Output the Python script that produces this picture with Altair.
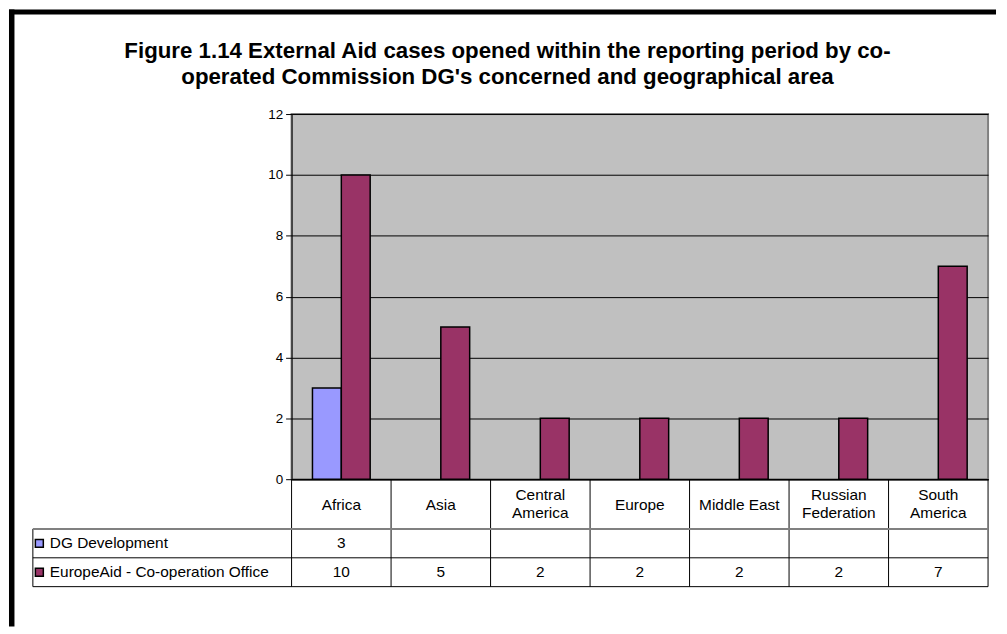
import altair as alt
import pandas as pd

FONT = "Liberation Sans"

title_lines = [
    "Figure 1.14 External Aid cases opened within the reporting period by co-",
    "operated Commission DG's concerned and geographical area",
]
categories = ["Africa", "Asia", "Central America", "Europe", "Middle East",
              "Russian Federation", "South America"]
two_line_cats = ["Central America", "Russian Federation", "South America"]
series = ["DG Development", "EuropeAid - Co-operation Office"]
dg_values = [3, None, None, None, None, None, None]
europeaid_values = [10, 5, 2, 2, 2, 2, 7]
colors = ["#9999FF", "#993366"]
y_ticks = [0, 2, 4, 6, 8, 10, 12]

rows = []
for s, vals in zip(series, [dg_values, europeaid_values]):
    for c, v in zip(categories, vals):
        rows.append({"cat": c, "series": s, "value": v,
                     "label": "" if v is None else str(v)})
df = pd.DataFrame(rows)
bars_df = df.dropna(subset=["value"])
one = pd.DataFrame({"k": [0]})
cats_df = pd.DataFrame({"cat": categories})
last_cat_df = pd.DataFrame({"cat": [categories[-1]]})
series_df = pd.DataFrame({"series": series})

x_scale = alt.Scale(domain=categories, paddingInner=0, paddingOuter=0)
color_scale = alt.Scale(domain=series, range=colors)
table_y = alt.Scale(domain=series, range=[417, 475], paddingInner=0, paddingOuter=0)

two_line_test = " || ".join("datum.value == '%s'" % c for c in two_line_cats)
split_expr = "(%s) ? split(datum.label, ' ') : datum.label" % two_line_test.replace("datum.value", "datum.label")

bars = alt.Chart(bars_df).mark_bar(stroke="black", strokeWidth=1.5).encode(
    x=alt.X("cat:N", scale=x_scale, axis=alt.Axis(
        title=None, ticks=False, domain=True, domainColor="black", domainWidth=1.5,
        labelAngle=0, labelPadding=25,
        labelBaseline={"condition": {"test": two_line_test, "value": "line-bottom"}, "value": "middle"},
        labelFontSize=15.5, labelLineHeight=19, labelColor="black", labelFont=FONT,
        labelOverlap=False, labelExpr=split_expr, grid=False)),
    xOffset=alt.XOffset("series:N", scale=alt.Scale(domain=series, paddingInner=0, paddingOuter=0.724)),
    y=alt.Y("value:Q", scale=alt.Scale(domain=[0, 12], nice=False), axis=alt.Axis(
        values=y_ticks, title=None, grid=True, gridColor="black", gridWidth=1, gridOpacity=1,
        domain=True, domainColor="black", domainWidth=1, ticks=True, tickColor="black",
        tickSize=6, tickWidth=1, labelFontSize=13.5, labelColor="black", labelPadding=3,
        labelFont=FONT)),
    color=alt.Color("series:N", scale=color_scale, legend=None),
)

vlines = alt.Chart(cats_df).mark_rule(color="black", strokeWidth=1).encode(
    x=alt.X("cat:N", scale=x_scale, bandPosition=0),
    y=alt.value(367), y2=alt.value(475))
vline_end = alt.Chart(last_cat_df).mark_rule(color="black", strokeWidth=1).encode(
    x=alt.X("cat:N", scale=x_scale, bandPosition=1),
    y=alt.value(367), y2=alt.value(475))
vline_left = alt.Chart(one).mark_rule(color="black", strokeWidth=1).encode(
    x=alt.value(-260), y=alt.value(417), y2=alt.value(475))

hl_top = alt.Chart(pd.DataFrame({"series": [series[0]]})).mark_rule(color="#808080", strokeWidth=2).encode(
    y=alt.Y("series:N", scale=table_y, bandPosition=0, axis=None),
    x=alt.value(-260), x2=alt.value(700))
hl_mid = alt.Chart(pd.DataFrame({"series": [series[1]]})).mark_rule(color="black", strokeWidth=1).encode(
    y=alt.Y("series:N", scale=table_y, bandPosition=0, axis=None),
    x=alt.value(-260), x2=alt.value(700))
hl_bot = alt.Chart(pd.DataFrame({"series": [series[1]]})).mark_rule(color="black", strokeWidth=1).encode(
    y=alt.Y("series:N", scale=table_y, bandPosition=1, axis=None),
    x=alt.value(-260), x2=alt.value(700))

tbl_text = alt.Chart(df).mark_text(fontSize=15.5, font=FONT, color="black", baseline="middle").encode(
    x=alt.X("cat:N", scale=x_scale),
    y=alt.Y("series:N", scale=table_y, axis=None),
    text="label:N")

row_labels = alt.Chart(series_df).mark_text(fontSize=15.5, font=FONT, color="black",
                                             align="left", baseline="middle").encode(
    x=alt.value(-243),
    y=alt.Y("series:N", scale=table_y, axis=None),
    text="series:N")

keys = alt.Chart(series_df).mark_square(size=64, stroke="black", strokeWidth=1.5, opacity=1).encode(
    x=alt.value(-253.5),
    y=alt.Y("series:N", scale=table_y, axis=None),
    color=alt.Color("series:N", scale=color_scale, legend=None))

border_left = alt.Chart(one).mark_rule(color="black", strokeWidth=5.5, strokeCap="butt").encode(
    x=alt.value(-281.25), y=alt.value(-105), y2=alt.value(515))
border_top = alt.Chart(one).mark_rule(color="black", strokeWidth=5, strokeCap="butt").encode(
    x=alt.value(-284), x2=alt.value(708), y=alt.value(-102.5))

chart = alt.layer(
    bars, vlines, vline_end, vline_left, hl_top, hl_mid, hl_bot,
    tbl_text, row_labels, keys, border_left, border_top
).resolve_scale(y="independent").properties(
    width=700, height=367,
    padding={"left": -2, "top": -3, "right": 0, "bottom": 0},
    title=alt.TitleParams(text=title_lines, font=FONT, fontSize=22.4, fontWeight="bold",
                          anchor="middle", frame="bounds", offset=-82, lineHeight=26,
                          dx=5, color="black"),
).configure(background="white", font=FONT).configure_view(
    fill="#C0C0C0", stroke="#808080", strokeWidth=2)

chart.save("out.html", embed_options={"renderer": "svg", "actions": False})
